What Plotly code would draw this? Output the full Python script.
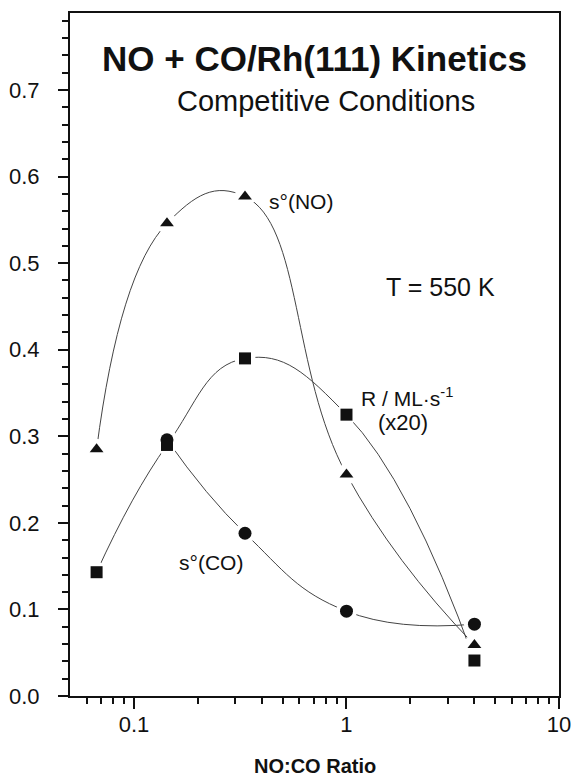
import plotly.graph_objects as go
import math

# ---- data ----
ratio = [0.0667, 0.143, 0.333, 1.0, 4.0]          # NO:CO ratio
s_no = [0.285, 0.546, 0.577, 0.256, 0.059]         # s°(NO)  triangles
ratio_co = [0.143, 0.333, 1.0, 4.0]
s_co = [0.296, 0.188, 0.098, 0.083]                # s°(CO)  circles
rate_r = [0.143, 0.290, 0.390, 0.325, 0.041]       # R / ML s^-1 (x20) squares

x_major = [0.1, 1, 10]
x_major_text = ["0.1", "1", "10"]
x_minor = [0.06, 0.07, 0.08, 0.09, 0.2, 0.3, 0.4, 0.5, 0.6, 0.7, 0.8, 0.9,
           2, 3, 4, 5, 6, 7, 8, 9]

FONT = "Liberation Sans, Arial, Helvetica, sans-serif"
LINE = "#444444"
INK = "#111111"

fig = go.Figure()

# curves
for xs, ys in [(ratio, s_no), (ratio_co, s_co), (ratio, rate_r)]:
    fig.add_trace(go.Scatter(x=xs, y=ys, mode="lines",
                             line=dict(shape="spline", smoothing=1.3, color=LINE, width=1),
                             hoverinfo="skip", showlegend=False))

# white halos (gaps around markers)
for xs, ys in [(ratio, s_no), (ratio_co, s_co), (ratio, rate_r)]:
    fig.add_trace(go.Scatter(x=xs, y=ys, mode="markers",
                             marker=dict(symbol="circle", size=21, color="white"),
                             hoverinfo="skip", showlegend=False))

# markers
fig.add_trace(go.Scatter(x=ratio, y=s_no, mode="markers", name="s°(NO)",
                         marker=dict(symbol="triangle-up", size=12, color=INK),
                         showlegend=False))
fig.add_trace(go.Scatter(x=ratio_co, y=s_co, mode="markers", name="s°(CO)",
                         marker=dict(symbol="circle", size=13, color=INK),
                         showlegend=False))
fig.add_trace(go.Scatter(x=ratio, y=rate_r, mode="markers", name="R",
                         marker=dict(symbol="square", size=12, color=INK),
                         showlegend=False))

ann = [
    dict(text="<b>NO + CO/Rh(111) Kinetics</b>", xref="paper", yref="paper",
         x=0.501, y=0.9327, xanchor="center", yanchor="middle", font=dict(size=35)),
    dict(text="Competitive Conditions", xref="paper", yref="paper",
         x=0.523, y=0.871, xanchor="center", yanchor="middle", font=dict(size=29)),
    dict(text="s°(NO)", xref="x", yref="y", x=-0.375, y=0.571,
         xanchor="left", yanchor="middle", font=dict(size=21)),
    dict(text="T = 550 K", xref="x", yref="y", x=0.1745, y=0.473,
         xanchor="left", yanchor="middle", font=dict(size=25)),
    dict(text="R / ML·s<sup>-1</sup>", xref="x", yref="y", x=0.0566, y=0.3457,
         xanchor="left", yanchor="middle", font=dict(size=21)),
    dict(text="(x20)", xref="x", yref="y", x=0.264, y=0.3156,
         xanchor="center", yanchor="middle", font=dict(size=22)),
    dict(text="s°(CO)", xref="x", yref="y", x=-0.797, y=0.1538,
         xanchor="left", yanchor="middle", font=dict(size=21)),
    dict(text="<b>NO:CO Ratio</b>", xref="paper", yref="paper",
         x=0.5, y=-0.1025, xanchor="center", yanchor="middle", font=dict(size=20)),
]
for a in ann:
    a["showarrow"] = False
    a["font"]["family"] = FONT
    a["font"]["color"] = INK

fig.update_layout(
    width=574, height=783,
    margin=dict(l=70, r=15, t=13, b=87),
    paper_bgcolor="white", plot_bgcolor="white",
    font=dict(family=FONT, color=INK, size=21),
    annotations=ann,
    xaxis=dict(type="log", range=[math.log10(0.05), 1], automargin=False,
               tickmode="array", tickvals=x_major, ticktext=x_major_text,
               ticks="outside", ticklen=11, tickwidth=1.5, tickcolor=INK,
               ticklabelstandoff=-3,
               minor=dict(tickmode="array", tickvals=x_minor, ticks="outside",
                          ticklen=6, tickwidth=1.5, tickcolor=INK),
               showline=True, linewidth=2, linecolor=INK, mirror=True,
               showgrid=False, zeroline=False, tickfont=dict(size=22)),
    yaxis=dict(range=[0, 0.789], tickmode="linear", tick0=0, dtick=0.1,
               tickformat=".1f", automargin=False,
               ticks="outside", ticklen=10, tickwidth=1.5, tickcolor=INK,
               ticklabelstandoff=14,
               minor=dict(tick0=0, dtick=0.02, ticks="outside", ticklen=6,
                          tickwidth=1.5, tickcolor=INK),
               showline=True, linewidth=2, linecolor=INK, mirror=True,
               showgrid=False, zeroline=False, tickfont=dict(size=22)),
)

# remove the default page margin so the 574x783 figure fills the window exactly
fig.write_html("out.html",
               config={"displayModeBar": False},
               post_script="document.body.style.margin='0';"
                           "document.body.style.overflow='hidden';")
